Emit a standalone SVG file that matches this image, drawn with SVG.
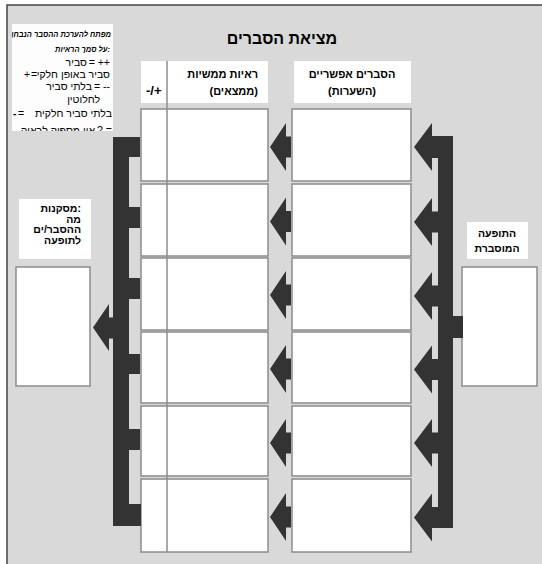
<svg xmlns="http://www.w3.org/2000/svg" width="542" height="564" viewBox="0 0 542 564">
<defs>
<style>
text{font-family:"Liberation Sans","DejaVu Sans",Arial,sans-serif;fill:#000}
.hd{font-size:11px;font-weight:bold}
.lbl{font-size:10.5px;font-weight:bold}
.leg{font-size:10.5px}
.legi{font-size:7.5px;font-weight:bold;font-style:italic}
.cell{fill:#fff;stroke:#8c8c8c;stroke-width:1.5}
.wb{fill:#fff}
.arr{fill:#333333}
</style>
<clipPath id="legclip"><rect x="12" y="24" width="101" height="107"/></clipPath>
</defs>
<rect x="0" y="0" width="542" height="564" fill="#fff"/>
<rect x="7" y="5" width="545" height="570" fill="#d9d9d9" stroke="#444" stroke-width="1.5"/>

<g id="legend">
<rect x="12" y="24" width="101" height="107" fill="#fdfdfd"/>
<g clip-path="url(#legclip)">
<text class="legi" x="111" y="37" text-anchor="end">מפתח להערכת ההסבר הנבחן</text>
<text class="legi" x="110" y="52" text-anchor="end">על סמך הראיות:</text>
<text class="leg" x="110" y="66" text-anchor="end">= ++</text>
<text class="leg" x="87" y="66" text-anchor="end">סביר</text>
<text class="leg" x="24" y="78">+</text>
<text class="leg" x="31" y="78">=</text>
<text class="leg" x="110" y="78" text-anchor="end">סביר באופן חלקי</text>
<text class="leg" x="110" y="90" text-anchor="end">= --</text>
<text class="leg" x="92" y="90" text-anchor="end">בלתי סביר</text>
<text class="leg" x="100" y="103" text-anchor="end">לחלוטין</text>
<text class="leg" x="13" y="117" font-weight="bold">-</text>
<text class="leg" x="18" y="117">=</text>
<text class="leg" x="112" y="117" text-anchor="end">בלתי סביר חלקית</text>
<text class="leg" x="112" y="134" text-anchor="end">? =</text>
<text class="leg" x="95" y="134" text-anchor="end">אין מספיק לראיה</text>
</g>
</g>

<g id="title">
<text x="282" y="44" text-anchor="middle" font-size="16" font-weight="bold">מציאת הסברים</text>
</g>

<g id="header-evidence">
<rect class="wb" x="141" y="61" width="127" height="42"/>
<text class="hd" x="258" y="78" text-anchor="end">ראיות ממשיות</text>
<text class="hd" x="258" y="95" text-anchor="end">(ממצאים)</text>
<text x="146" y="95" font-family="Liberation Mono,DejaVu Sans Mono,monospace" font-size="13" font-weight="bold">-/+</text>
</g>

<g id="header-hypotheses">
<rect class="wb" x="294" y="61" width="117" height="42"/>
<text class="hd" x="352" y="78" text-anchor="middle">הסברים אפשריים</text>
<text class="hd" x="352" y="95" text-anchor="middle">(השערות)</text>
</g>

<g id="evidence-rows">
<rect class="cell" x="141" y="109" width="127" height="72"/>
<rect class="cell" x="141" y="184" width="127" height="72"/>
<rect class="cell" x="141" y="258" width="127" height="72"/>
<rect class="cell" x="141" y="332" width="127" height="71"/>
<rect class="cell" x="141" y="406" width="127" height="70"/>
<rect class="cell" x="141" y="479" width="127" height="73"/>
<line x1="167" y1="61" x2="167" y2="552" stroke="#8c8c8c" stroke-width="1.5"/>
</g>

<g id="hypothesis-rows">
<rect class="cell" x="292" y="109" width="119" height="72"/>
<rect class="cell" x="292" y="184" width="119" height="72"/>
<rect class="cell" x="292" y="258" width="119" height="72"/>
<rect class="cell" x="292" y="332" width="119" height="71"/>
<rect class="cell" x="292" y="406" width="119" height="70"/>
<rect class="cell" x="292" y="479" width="119" height="73"/>
</g>

<g id="phenomenon">
<rect class="wb" x="467" y="222" width="61" height="37"/>
<text class="lbl" x="497" y="237" text-anchor="middle">התופעה</text>
<text class="lbl" x="497" y="252" text-anchor="middle">המוסברת</text>
<rect class="cell" x="462" y="267" width="75" height="119"/>
</g>

<g id="conclusions">
<rect class="wb" x="19" y="199" width="72" height="60"/>
<text class="lbl" x="81" y="212" text-anchor="end">מסקנות:</text>
<text class="lbl" x="81" y="222.5" text-anchor="end">מה</text>
<text class="lbl" x="81" y="233" text-anchor="end">ההסבר/ים</text>
<text class="lbl" x="81" y="243.5" text-anchor="end">לתופעה</text>
<rect class="cell" x="16" y="267" width="74" height="119"/>
</g>

<g id="connectors">
<rect class="arr" x="453" y="316" width="10" height="22"/>
<rect class="arr" x="438" y="136" width="15" height="382"/>
<rect class="arr" x="432" y="136" width="21" height="22"/>
<rect class="arr" x="432" y="507" width="21" height="21"/>
<polygon class="arr" points="414,147 432,123 432,136 438,136 438,158 432,158 432,171"/>
<polygon class="arr" points="414,222 432,198 432,211.5 438,211.5 438,232.5 432,232.5 432,246"/>
<polygon class="arr" points="414,296 432,272 432,285.5 438,285.5 438,306.5 432,306.5 432,320"/>
<polygon class="arr" points="414,369.5 432,345.5 432,359 438,359 438,380 432,380 432,393.5"/>
<polygon class="arr" points="414,443 432,419 432,432.5 438,432.5 438,453.5 432,453.5 432,467"/>
<polygon class="arr" points="414,517.5 432,493.5 432,507 438,507 438,528 432,528 432,541.5"/>
<polygon class="arr" points="270,147 286,123 286,136.5 291,136.5 291,157.5 286,157.5 286,171"/>
<polygon class="arr" points="270,221.5 286,197.5 286,211 291,211 291,232 286,232 286,245.5"/>
<polygon class="arr" points="270,295 286,271 286,284.5 291,284.5 291,305.5 286,305.5 286,319"/>
<polygon class="arr" points="270,369 286,345 286,358.5 291,358.5 291,379.5 286,379.5 286,393"/>
<polygon class="arr" points="270,443 286,419 286,432.5 291,432.5 291,453.5 286,453.5 286,467"/>
<polygon class="arr" points="270,517 286,493 286,506.5 291,506.5 291,527.5 286,527.5 286,541"/>
<rect class="arr" x="113" y="137" width="16" height="389"/>
<rect class="arr" x="113" y="137" width="27" height="20"/>
<rect class="arr" x="113" y="207" width="27" height="21"/>
<rect class="arr" x="113" y="278" width="27" height="21"/>
<rect class="arr" x="113" y="354" width="27" height="20"/>
<rect class="arr" x="113" y="429" width="27" height="21"/>
<rect class="arr" x="113" y="504" width="28" height="22"/>
<polygon class="arr" points="93,327.5 109,304 109,317.5 113,317.5 113,338.5 109,338.5 109,351"/>
</g>
</svg>
